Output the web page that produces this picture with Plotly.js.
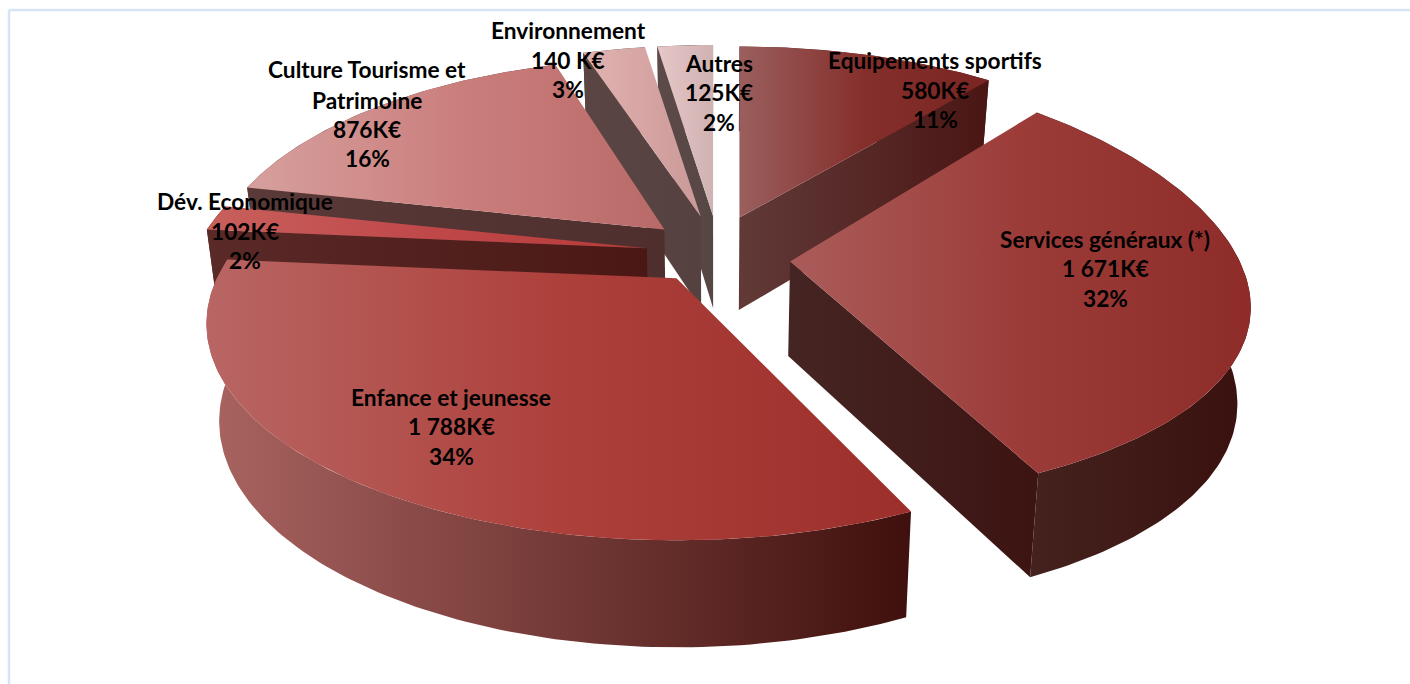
<!DOCTYPE html>
<html><head><meta charset="utf-8">
<script src="https://cdn.plot.ly/plotly-3.0.1.min.js"></script>
<style>html,body{margin:0;padding:0;background:#fff}#c{width:1410px;height:684px}</style></head>
<body><div id="c"></div>
<script>
// ---- data, in pie order (clockwise from 12 o'clock)
const categories = ['Equipements sportifs','Services généraux (*)','Enfance et jeunesse','Dév. Economique','Culture Tourisme et<br>Patrimoine','Environnement','Autres'];
const amounts = [580,1671,1788,102,876,140,125];
const amountLabels = ['580K€','1 671K€','1 788K€','102K€','876K€','140 K€','125K€'];
const percentLabels = ['11%','32%','34%','2%','16%','3%','2%'];

// ---- labels layout: centre x, and y of each text line
const labelX = [935,1105,451,245,367,568,719];
const labelY = [[60,90,119],[239,268,298],[397,426,456],[201,231,260],[69,100,129,158],[30,60,89],[63,92,122]];

// ---- styles
const topColors = [
 ['#9a5f5d','#852f2c','#7a2522'],
 ['#aa5c5a','#9c3c39','#8d2c29'],
 ['#b86664','#ae403b','#9c2f2b'],
 ['#c8605c','#c0484a','#b53c38'],
 ['#d6a09e','#cb7f7d','#b96a68'],
 ['#dfb4b2','#d7a5a3','#c99a98'],
 ['#e6c8c8','#dcbcbc','#cfb2b2']];
const radialColors = [
 ['#613a38','#4a1614'],['#452523','#3c1412'],['#000','#000'],['#5a2a28','#4a1714'],
 ['#5a3a38','#4e2f2d'],['#5a4543','#554240'],['#5c4a48','#564644']];
const rimColors = [
 ['#613a38','#4a1614'],['#45221f','#39110e'],['#a96461','#3f100d'],['#5a2a28','#4a1714'],
 ['#5a3a38','#4e2f2d'],['#5a4543','#554240'],['#5c4a48','#564644']];
const drawOrder = [6,5,4,3,0,1,2];

// ---- projection of the tilted disc (local unit circle -> page pixels)
const cx=716, cy=252, A=455, B=207, P=0.21, PULL=0.15, DEG=Math.PI/180;
const apexShift=[[1,-6],[6,6],[0,0],[-2,1],[-2,-2],[0,-6],[2,-6]];
const rimScaleX=[1,0.99,1.01,0.99,0.98,1,1];
const angleShift=[[0,0],[0,0],[2.2,0],[0,0],[0,1],[0,0],[0,0]];
const rimWarp=[[0,0],[-20.5,22],[0,0],[0,0],[0,0],[0,0],[0,0]];
function proj(X,Y){const d=1+P*Y;return [A*X/d,-B*Y/d];}
function low(p){return [cx+(p[0]-cx)*0.975, p[1]+94+0.045*(p[1]-cy)];}

const total=amounts.reduce((a,b)=>a+b,0);
const traces=[];
function poly(pts,stops){
  const n=stops.length;
  traces.push({type:'scatter',mode:'lines',x:pts.map(p=>p[0]).concat(pts[0][0]),y:pts.map(p=>p[1]).concat(pts[0][1]),
    fill:'toself',line:{width:0},hoverinfo:'skip',showlegend:false,
    fillgradient:{type:'horizontal',colorscale:stops.map((c,i)=>[i/(n-1),c])}});
}
let cum=0;const slices=amounts.map(v=>{const a0=cum/total*2*Math.PI;cum+=v;const a1=cum/total*2*Math.PI;return {a0,a1};});
drawOrder.forEach(i=>{
  const {a0,a1}=slices[i],m=(a0+a1)/2;
  const c0=proj(PULL*Math.sin(m),PULL*Math.cos(m));
  const ox=cx+c0[0]+apexShift[i][0],oy=cy+c0[1]+apexShift[i][1];
  const b0=a0+angleShift[i][0]*DEG,b1=a1+angleShift[i][1]*DEG;
  const arc=[];const steps=Math.max(4,Math.ceil((b1-b0)/DEG));
  for(let k=0;k<=steps;k++){
    const th=b0+(b1-b0)*k/steps,s=Math.sin(th),c=Math.cos(th),q=proj(s,c);
    arc.push([ox+q[0]*rimScaleX[i],oy+q[1]+rimWarp[i][0]+rimWarp[i][1]*s*s]);
  }
  const apex=[ox,oy];
  poly(arc.concat(arc.map(low).reverse()),rimColors[i]);
  if(a0>Math.PI+1e-6){const e=arc[0];poly([e,apex,low(apex),low(e)],radialColors[i]);}
  if(a1<Math.PI-1e-6){const e=arc[arc.length-1];poly([apex,e,low(e),low(apex)],radialColors[i]);}
  poly([apex].concat(arc),topColors[i]);
});

const font={family:'Lato, Carlito, sans-serif',size:22.7,color:'#000',weight:700};
const annotations=[];
categories.forEach((cat,i)=>{
  const lines=cat.split('<br>').concat([amountLabels[i],percentLabels[i]]);
  lines.forEach((t,j)=>annotations.push({x:labelX[i],y:labelY[i][j],xref:'x',yref:'y',text:'<b>'+t+'</b>',showarrow:false,xanchor:'center',yanchor:'middle',font}));
});
const layout={width:1410,height:684,margin:{l:0,r:0,t:0,b:0},paper_bgcolor:'#fff',plot_bgcolor:'#fff',showlegend:false,
  xaxis:{range:[0,1410],visible:false,fixedrange:true},yaxis:{range:[684,0],visible:false,fixedrange:true},
  annotations,
  shapes:[{type:'line',xref:'x',yref:'y',x0:9,x1:1410,y0:10,y1:10,line:{color:'#d6e4f5',width:2.5}},
          {type:'line',xref:'x',yref:'y',x0:9,x1:9,y0:10,y1:684,line:{color:'#d6e4f5',width:2.5}}]};
Plotly.newPlot('c',traces,layout,{displayModeBar:false,staticPlot:true});
</script></body></html>
